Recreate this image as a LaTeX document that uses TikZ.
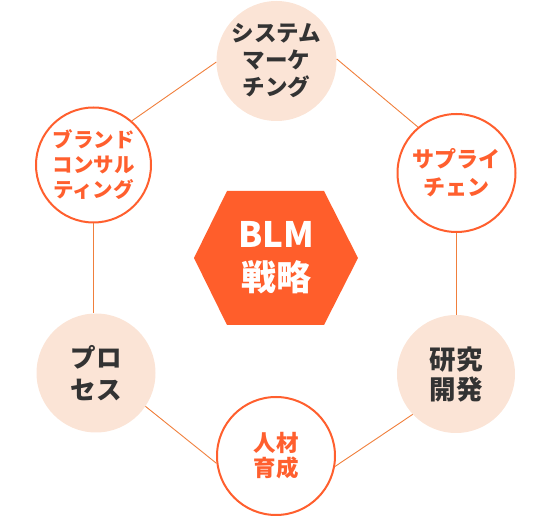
\documentclass[tikz,border=0pt]{standalone}
\usepackage{fontspec}
\setmainfont{Noto Sans CJK JP}
\definecolor{peach}{HTML}{FBE4D6}
\definecolor{hexorange}{HTML}{FF5E2B}
\definecolor{ringorange}{HTML}{FF5F2E}
\definecolor{linkorange}{HTML}{F07F3C}
\definecolor{darktext}{HTML}{333333}
\begin{document}
\begin{tikzpicture}[x=1pt,y=-1pt,
  softcircle/.style={circle, fill=peach, inner sep=0pt, align=center, text=darktext},
  ringcircle/.style={circle, draw=ringorange, line width=2pt, fill=white, inner sep=0pt, align=center, text=ringorange},
  link/.style={draw=linkorange, line width=0.9pt}]
\useasboundingbox (0,0) rectangle (550,518);
% hexagon
\fill[hexorange] (194,258) -- (227,191) -- (324,191) -- (358,258) -- (324,325) -- (227,325) -- cycle;
\node[align=center, text=white, font=\bfseries\fontsize{35}{43}\selectfont] (core) at (276,258) {BLM\\戦略};
% circles
\node[softcircle, minimum size=120pt, font=\bfseries\fontsize{22.5}{27}\selectfont] (sys) at (276.5,61) {システム\\マーケ\\チング};
\node[ringcircle, minimum size=115pt, font=\bfseries\fontsize{20.5}{25}\selectfont] (brand) at (93.5,165) {ブランド\\コンサル\\ティング};
\node[ringcircle, minimum size=118pt, font=\bfseries\fontsize{22}{28}\selectfont] (supply) at (456.5,173) {サプライ\\チェン};
\node[softcircle, minimum size=119pt, font=\bfseries\fontsize{25.5}{32}\selectfont] (proc) at (96,373) {プロ\\セス};
\node[softcircle, minimum size=118pt, font=\bfseries\fontsize{26.5}{30}\selectfont] (rnd) at (456,374) {研究\\開発};
\node[ringcircle, minimum size=118pt, font=\bfseries\fontsize{22.5}{25}\selectfont] (talent) at (276,456) {人材\\育成};
% links
\draw[link] (brand.49) -- (sys.181);
\draw[link] (sys.2) -- (supply.130);
\draw[link] (brand.south) -- (brand.south |- proc.north);
\draw[link] (supply.south) -- (supply.south |- rnd.north);
\draw[link] (proc.-34) -- (talent.-173);
\draw[link] (talent.-10) -- (rnd.223);
\end{tikzpicture}
\end{document}
